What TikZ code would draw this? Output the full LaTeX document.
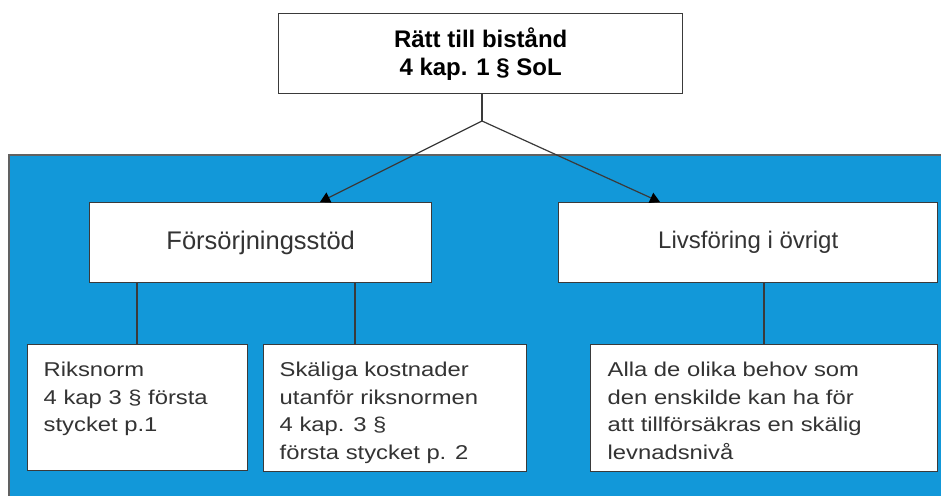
\documentclass[tikz,border=0pt]{standalone}
\usepackage{fontspec}
\setmainfont{Liberation Sans}
\newfontfamily\widefont[FakeStretch=1.19]{Liberation Sans}
\usetikzlibrary{arrows.meta}
\definecolor{panelblue}{HTML}{1298D9}
\definecolor{edgegray}{HTML}{3A3A3A}
\definecolor{txtgray}{HTML}{333333}
\newcommand\lowbox[3]{\parbox[c][#2pt][t]{#1pt}{\widefont\fontsize{20}{27.5}\selectfont\raggedright\rule{0pt}{32pt}#3}}
\begin{document}
\begin{tikzpicture}[x=1pt,y=-1pt,
  box/.style={draw=edgegray, line width=1.4pt, fill=white, inner sep=0pt, text=txtgray, anchor=north west},
  midbox/.style={box, minimum height=80pt},
  lowbox/.style={box, inner xsep=16pt, inner ysep=0pt},
  link/.style={draw=edgegray, line width=1.2pt},
  arr/.style={link, -{Triangle[width=11pt,length=10pt,fill=black,color=black]}}]
\useasboundingbox (0,0) rectangle (941,495);
\fill[white] (0,0) rectangle (941,495);
\begin{scope}
\clip (0,0) rectangle (941,495);
\draw[fill=panelblue, draw=edgegray!80, line width=1.5pt] (9,155) rectangle (960,520);
\end{scope}
% top
\node[box, minimum width=404pt, minimum height=80pt, text=black,
      font=\bfseries\fontsize{24}{28}\selectfont, align=center] (top) at (278,13)
      {Rätt till bistånd\\4 kap. 1 § SoL};
% middle
\node[midbox, minimum width=342pt, font=\fontsize{25.5}{30}\selectfont] (fors) at (89,202) {Försörjningsstöd};
\node[midbox, minimum width=379pt, font=\fontsize{24}{28}\selectfont] (livs) at (558,202) {Livsföring i övrigt};
% bottom
\node[lowbox] (riks) at (27,344) {\lowbox{188}{126}{Riksnorm\\4 kap 3 § första\\stycket p.1}};
\node[lowbox] (skal) at (263,344) {\lowbox{231}{127}{Skäliga kostnader\\utanför riksnormen\\4 kap. 3 §\\första stycket p. 2}};
\node[lowbox, inner xsep=17pt] (alla) at (590,344) {\lowbox{313}{127}{Alla de olika behov som\\den enskilde kan ha för\\att tillförsäkras en skälig\\levnadsnivå}};
% connectors
\coordinate (j) at (482,121);
\draw[link] (top.south -| j) -- (j);
\draw[arr] (j) -- (fors.north -| 320,0);
\draw[arr] (j) -- (livs.north -| 660,0);
\draw[link] (fors.south -| 137,0) -- (riks.north -| 137,0);
\draw[link] (fors.south -| 355,0) -- (skal.north -| 355,0);
\draw[link] (livs.south -| 764,0) -- (alla.north -| 764,0);
\end{tikzpicture}
\end{document}
